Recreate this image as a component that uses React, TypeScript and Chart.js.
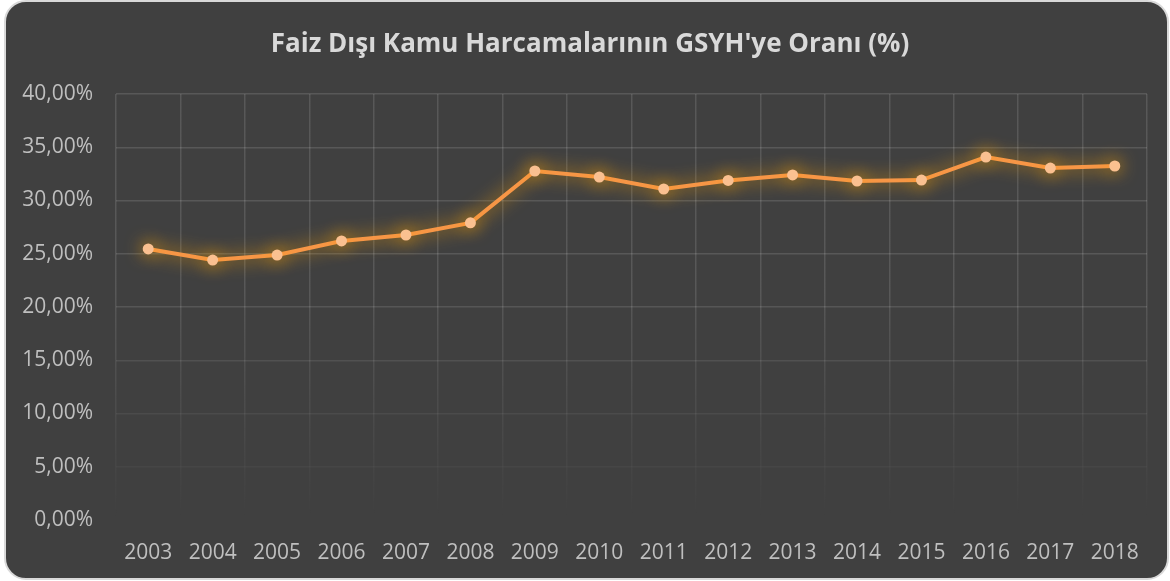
import React, { useEffect, useRef } from "react";
import { Chart, registerables } from "chart.js";

Chart.register(...registerables);

const years = ["2003","2004","2005","2006","2007","2008","2009","2010","2011","2012","2013","2014","2015","2016","2017","2018"];
const ratios = [25.45, 24.41, 24.88, 26.2, 26.76, 27.9, 32.77, 32.2, 31.08, 31.88, 32.4, 31.83, 31.92, 34.08, 33.05, 33.24];
const titleText = "Faiz Dışı Kamu Harcamalarının GSYH'ye Oranı (%)";
const yMin = 0;
const yMax = 40;
const yStep = 5;

const FONT = "'Open Sans', 'Noto Sans', sans-serif";

function gridAlpha(frac: number) {
  const base = 0.13;
  if (frac <= 0.45) return base;
  const t = (frac - 0.45) / 0.55;
  return Math.max(0, base * (1 - t));
}

const glowPlugin = {
  id: "glow",
  beforeDatasetDraw(chart: any) {
    const ctx = chart.ctx;
    ctx.save();
    ctx.shadowColor = "rgba(255, 165, 0, 1)";
    ctx.shadowBlur = 18;
    ctx.shadowOffsetX = 0;
    ctx.shadowOffsetY = 0;
  },
  afterDatasetDraw(chart: any) {
    chart.ctx.restore();
  },
};

const titlePlugin = {
  id: "customTitle",
  afterDraw(chart: any) {
    const ctx = chart.ctx;
    ctx.save();
    ctx.font = `bold 26px ${FONT}`;
    ctx.fillStyle = "#D9D9D9";
    ctx.textAlign = "center";
    ctx.textBaseline = "middle";
    ctx.fillText(titleText, 590, 45);
    ctx.restore();
  },
};

export default function App() {
  const ref = useRef<HTMLCanvasElement | null>(null);

  useEffect(() => {
    document.body.style.margin = "0";
    const canvas = ref.current;
    if (!canvas) return;
    const chart = new Chart(canvas, {
      type: "line",
      data: {
        labels: years,
        datasets: [
          {
            data: ratios,
            borderColor: "#F79646",
            borderWidth: 4,
            pointBackgroundColor: "#FAC090",
            pointBorderColor: "#FAC090",
            pointBorderWidth: 0,
            pointRadius: 5.5,
            tension: 0,
          },
        ],
      },
      options: {
        responsive: false,
        animation: false,
        devicePixelRatio: 1,
        layout: { padding: { top: 94, right: 23, bottom: 0, left: 0 } },
        plugins: {
          legend: { display: false },
          tooltip: { enabled: false },
          title: { display: false },
        },
        scales: {
          x: {
            offset: true,
            border: { display: false },
            afterFit: (scale: any) => {
              scale.height = 61;
            },
            grid: {
              offset: true,
              drawTicks: false,
              lineWidth: 1.5,
              color: (c: any) => {
                const ch = c.chart;
                const area = ch.chartArea;
                if (!area) return "rgba(255,255,255,0.13)";
                const g = ch.ctx.createLinearGradient(0, area.top, 0, area.bottom);
                g.addColorStop(0, "rgba(255,255,255,0.13)");
                g.addColorStop(0.45, "rgba(255,255,255,0.13)");
                g.addColorStop(1, "rgba(255,255,255,0)");
                return g;
              },
            },
            ticks: {
              color: "#BFBFBF",
              font: { family: FONT, size: 21 },
              padding: 20,
              maxRotation: 0,
            },
          },
          y: {
            min: yMin,
            max: yMax,
            border: { display: false },
            afterFit: (scale: any) => {
              scale.width = 116;
            },
            grid: {
              drawTicks: false,
              lineWidth: 1.5,
              color: (c: any) => {
                const v = c.tick ? c.tick.value : 0;
                const frac = (yMax - v) / (yMax - yMin);
                return `rgba(255,255,255,${gridAlpha(frac)})`;
              },
            },
            ticks: {
              stepSize: yStep,
              color: "#BFBFBF",
              font: { family: FONT, size: 21 },
              padding: 23,
              callback: (v: any) => Number(v).toFixed(2).replace(".", ",") + "%",
            },
          },
        },
      },
      plugins: [glowPlugin, titlePlugin],
    });
    return () => chart.destroy();
  }, []);

  return (
    <div style={{ position: "relative", width: 1170, height: 581, background: "#fff", overflow: "hidden" }}>
      <div
        style={{
          position: "absolute",
          left: 4,
          top: 0,
          width: 1165,
          height: 580,
          background: "#404040",
          borderRadius: 22,
          border: "2px solid #D9D9D9",
          boxSizing: "border-box",
        }}
      />
      <canvas
        ref={ref}
        width={1170}
        height={581}
        style={{ position: "absolute", left: 0, top: 0, width: 1170, height: 581 }}
      />
    </div>
  );
}
